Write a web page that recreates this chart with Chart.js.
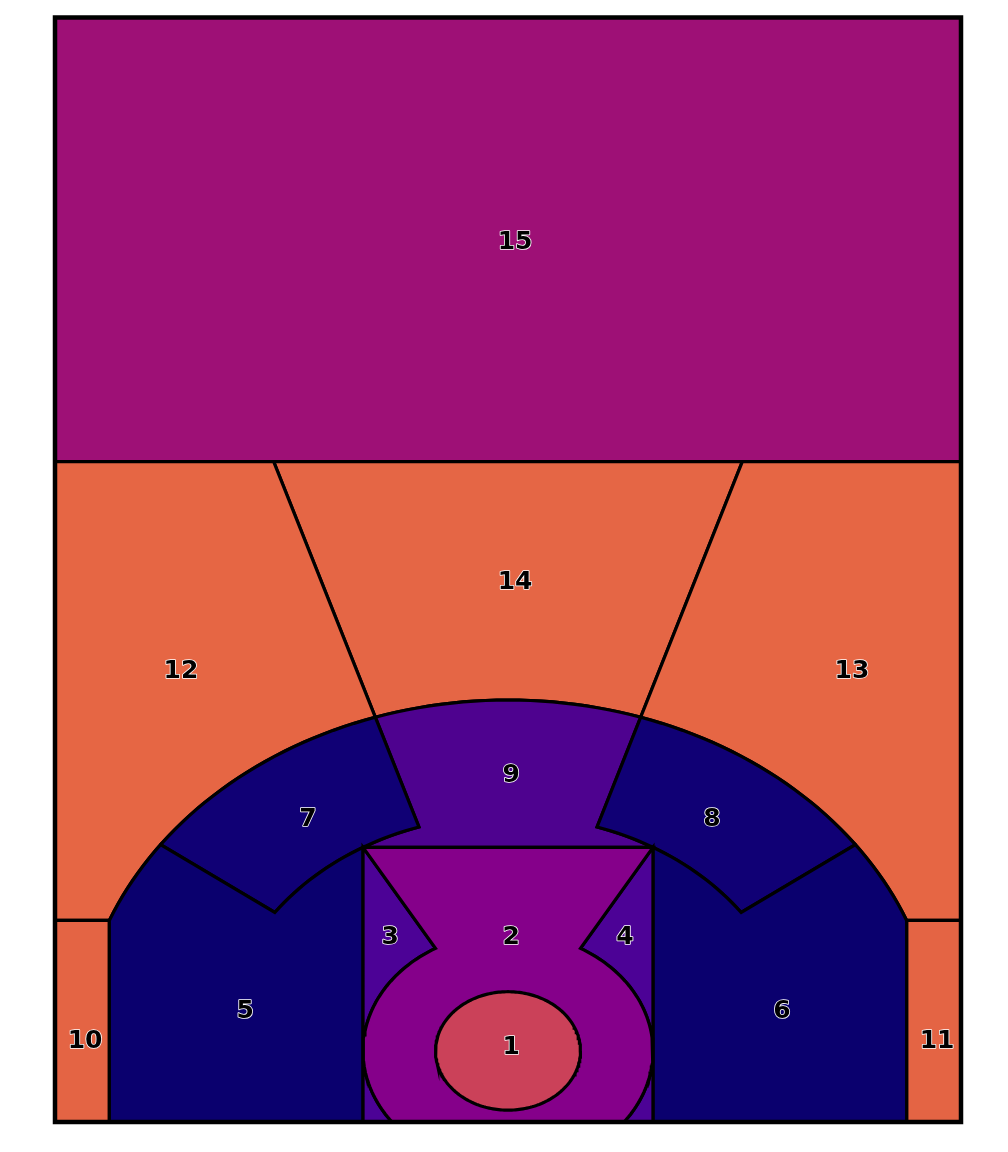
<!DOCTYPE html>
<html>
<head>
<meta charset="utf-8">
<script src="https://cdn.jsdelivr.net/npm/chart.js@4.4.1/dist/chart.umd.min.js"></script>
<style>
  html, body { margin: 0; padding: 0; background: #fff; }
  canvas { display: block; }
</style>
</head>
<body>
<canvas id="court" width="1008" height="1152"></canvas>
<script>
"use strict";

// zone ids, fill colours and label spots (court units, basket at 0,0)
const zoneIds = [1, 2, 3, 4, 5, 6, 7, 8, 9, 10, 11, 12, 13, 14, 15];
const zoneColors = [
  '#cb4159', '#85008a', '#4c0296', '#4c0296', '#0a006e',
  '#0a006e', '#100075', '#100075', '#4e028f', '#e46444',
  '#e46444', '#e66644', '#e66644', '#e56645', '#9e1076'
];
const labelX = [1.7, 1.7, -65, 64.6, -145, 151.2, -110.4, 112.6, 1.7, -233.4, 236.8, -180.5, 189.8, 3.9, 3.9];
const labelY = [2.6, 76.3, 76.3, 76.3, 26.3, 26.3, 156.6, 156.6, 186.3, 6.7, 6.7, 256.6, 256.6, 316.1, 546.3];

// court geometry
const courtX = [-250, 250];
const courtY = [-48, 698];
const threeR = 237;
const cornerX = 220;
const paintHalf = 80;
const paintTop = 137.5;
const rimR = 40;
const lowR = 80;
const deepY = 398;
const wedgeAngles = [36, 72, 108, 144];

const DEG = Math.PI / 180;
const midR = Math.hypot(paintHalf, paintTop);
const cornerA = Math.acos(cornerX / threeR) / DEG;
const cornerY = threeR * Math.sin(cornerA * DEG);
const paintA = Math.atan2(paintTop, paintHalf) / DEG;
const lowA = Math.asin(courtY[0] / lowR) / DEG;

function arc(r, a0, a1) {
  const n = Math.max(2, Math.ceil(Math.abs(a1 - a0) / 1.5));
  const pts = [];
  for (let i = 0; i <= n; i++) {
    const a = (a0 + (a1 - a0) * i / n) * DEG;
    pts.push({ x: r * Math.cos(a), y: r * Math.sin(a) });
  }
  return pts;
}
function ray(a, y) {
  return { x: y / Math.tan(a * DEG), y: y };
}
function mirror(pts) {
  return pts.map(p => ({ x: -p.x, y: p.y }));
}
function close(pts) {
  return pts.concat([pts[0]]);
}

const b = courtY[0];
const z1 = arc(rimR, 0, 360);
const z2 = [{ x: -paintHalf, y: paintTop }, { x: paintHalf, y: paintTop }]
  .concat(arc(lowR, 60, lowA), arc(lowR, 180 - lowA, 120));
const z3 = [{ x: -paintHalf, y: b }, { x: -paintHalf, y: paintTop }]
  .concat(arc(lowR, 120, 180 - lowA));
const z5 = [{ x: -cornerX, y: b }]
  .concat(arc(threeR, 180 - cornerA, wedgeAngles[3]), arc(midR, wedgeAngles[3], 180 - paintA),
    [{ x: -paintHalf, y: b }]);
const z7 = arc(threeR, wedgeAngles[3], wedgeAngles[2]).concat(arc(midR, wedgeAngles[2], wedgeAngles[3]));
const z9 = arc(threeR, wedgeAngles[2], wedgeAngles[1])
  .concat(arc(midR, wedgeAngles[1], paintA), arc(midR, 180 - paintA, wedgeAngles[2]));
const z10 = [{ x: courtX[0], y: b }, { x: -cornerX, y: b }, { x: -cornerX, y: cornerY }, { x: courtX[0], y: cornerY }];
const z12 = [{ x: courtX[0], y: cornerY }]
  .concat(arc(threeR, 180 - cornerA, wedgeAngles[2]), [ray(wedgeAngles[2], deepY), { x: courtX[0], y: deepY }]);
const z14 = arc(threeR, wedgeAngles[1], wedgeAngles[2])
  .concat([ray(wedgeAngles[2], deepY), ray(wedgeAngles[1], deepY)]);
const z15 = [{ x: courtX[0], y: deepY }, { x: courtX[1], y: deepY }, { x: courtX[1], y: courtY[1] }, { x: courtX[0], y: courtY[1] }];

const zoneShapes = [z1, z2, z3, mirror(z3), z5, mirror(z5), z7, mirror(z7), z9,
  z10, mirror(z10), z12, mirror(z12), z14, z15];

const border = close([{ x: courtX[0], y: courtY[0] }, { x: courtX[1], y: courtY[0] },
  { x: courtX[1], y: courtY[1] }, { x: courtX[0], y: courtY[1] }]);

const datasets = [{
  data: border,
  showLine: true,
  fill: false,
  borderColor: '#000',
  borderWidth: 4.5,
  borderCapStyle: 'square',
  pointRadius: 0,
  clip: false
}];
zoneShapes.forEach((pts, i) => {
  datasets.push({
    label: String(zoneIds[i]),
    data: close(pts),
    showLine: true,
    fill: 'shape',
    backgroundColor: zoneColors[i],
    borderColor: '#000',
    borderWidth: 3.2,
    pointRadius: 0,
    tension: 0,
    clip: false
  });
});

const zoneLabels = {
  id: 'zoneLabels',
  afterDatasetsDraw(chart) {
    const ctx = chart.ctx;
    const xs = chart.scales.x, ys = chart.scales.y;
    ctx.save();
    ctx.font = 'bold 25px "DejaVu Sans"';
    ctx.textAlign = 'center';
    ctx.textBaseline = 'middle';
    ctx.lineJoin = 'round';
    zoneIds.forEach((id, i) => {
      const px = xs.getPixelForValue(labelX[i]);
      const py = ys.getPixelForValue(labelY[i]);
      ctx.strokeStyle = '#fff';
      ctx.lineWidth = 1.6;
      ctx.strokeText(String(id), px, py);
      ctx.fillStyle = '#000';
      ctx.fillText(String(id), px, py);
    });
    ctx.restore();
  }
};

new Chart(document.getElementById('court'), {
  type: 'scatter',
  data: { datasets: datasets },
  options: {
    responsive: false,
    animation: false,
    layout: { padding: { left: 55, right: 47, top: 17.5, bottom: 30 } },
    scales: {
      x: { type: 'linear', min: courtX[0], max: courtX[1], display: false },
      y: { type: 'linear', min: courtY[0], max: courtY[1], display: false }
    },
    plugins: {
      legend: { display: false },
      tooltip: { enabled: false }
    }
  },
  plugins: [zoneLabels]
});
</script>
</body>
</html>
